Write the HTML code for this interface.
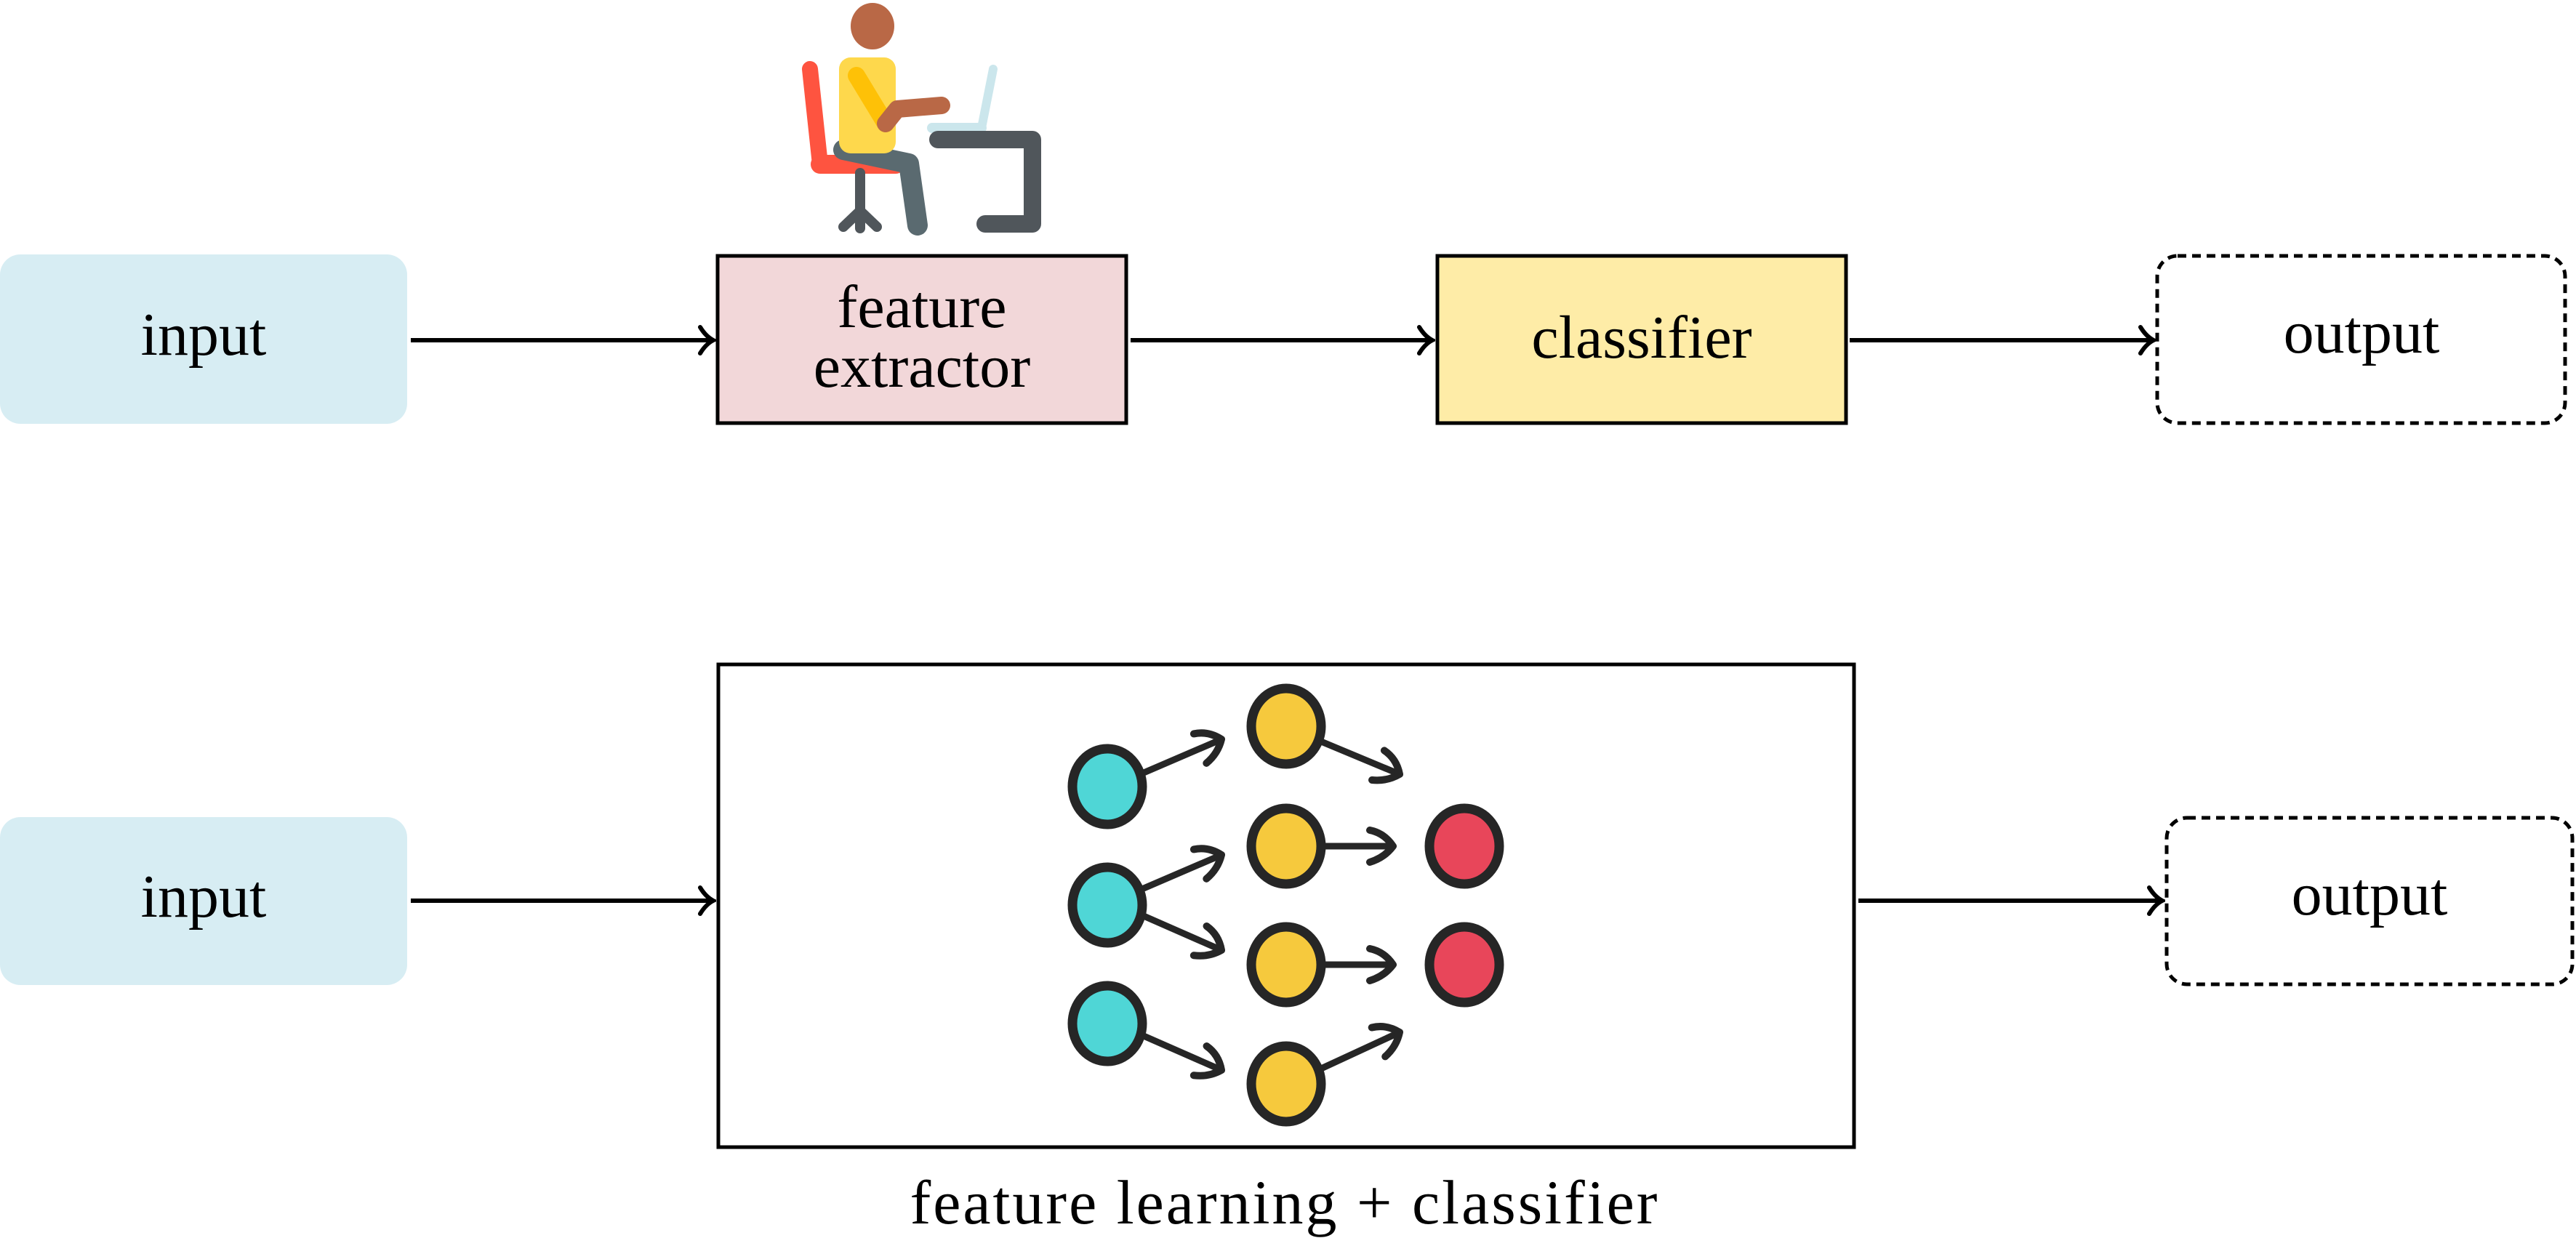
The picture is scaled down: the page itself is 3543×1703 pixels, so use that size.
<!DOCTYPE html>
<html><head><meta charset="utf-8"><style>
html,body{margin:0;padding:0;background:#fff}
svg{display:block}
text{font-family:"Liberation Serif",serif;fill:#000}
</style></head><body>
<svg width="3543" height="1703" viewBox="0 0 3543 1703" xmlns="http://www.w3.org/2000/svg">
<defs>
<marker id="a" markerWidth="30" markerHeight="44" refX="26" refY="22" orient="auto" markerUnits="userSpaceOnUse">
<path d="M8,4 Q16,17 26,22 Q16,27 8,40" fill="none" stroke="#000" stroke-width="6" stroke-linecap="round"/>
</marker>
<marker id="s" markerWidth="60" markerHeight="60" refX="46" refY="30" orient="auto" markerUnits="userSpaceOnUse">
<path d="M14,8 Q34,12 46,30 Q34,46 14,52" fill="none" stroke="#262626" stroke-width="10" stroke-linecap="round" stroke-linejoin="round"/>
</marker>
</defs>

<!-- top row -->
<rect x="0" y="350" width="560" height="233" rx="28" fill="#d7edf3"/>
<text x="280" y="488" font-size="84" text-anchor="middle">input</text>
<line x1="565" y1="468" x2="981" y2="468" stroke="#000" stroke-width="6" marker-end="url(#a)"/>
<rect x="987" y="352" width="562" height="230" fill="#f2d7d9" stroke="#000" stroke-width="5"/>
<text x="1268" y="450" font-size="84" text-anchor="middle">feature</text>
<text x="1268" y="532" font-size="84" text-anchor="middle">extractor</text>
<line x1="1555" y1="468" x2="1970" y2="468" stroke="#000" stroke-width="6" marker-end="url(#a)"/>
<rect x="1977" y="352" width="562" height="230" fill="#feeca7" stroke="#000" stroke-width="5"/>
<text x="2258" y="492" font-size="84" text-anchor="middle">classifier</text>
<line x1="2544" y1="468" x2="2962" y2="468" stroke="#000" stroke-width="6" marker-end="url(#a)"/>
<rect x="2967" y="352" width="561" height="230" rx="28" fill="none" stroke="#000" stroke-width="5" stroke-dasharray="12,8"/>
<text x="3248" y="485" font-size="84" text-anchor="middle">output</text>

<!-- person -->
<g stroke-linecap="round" fill="none">
<line x1="1114" y1="95" x2="1128" y2="226" stroke="#fe5440" stroke-width="22"/>
<line x1="1128" y1="226" x2="1232" y2="226" stroke="#fe5440" stroke-width="26"/>
<line x1="1183" y1="238" x2="1183" y2="290" stroke="#50565b" stroke-width="14"/>
<path d="M1183,290 L1160,312 M1183,290 L1183,314 M1183,290 L1206,312" stroke="#50565b" stroke-width="14"/>
<path d="M1160,206 L1250,225 L1262,310" stroke="#5a6a70" stroke-width="28" stroke-linejoin="round"/>
<rect x="1154" y="79" width="78" height="132" rx="16" fill="#fed84c" stroke="none"/>
<line x1="1178" y1="104" x2="1218" y2="170" stroke="#fec107" stroke-width="24"/>
<path d="M1218,170 L1234,150 L1295,145" stroke="#b96846" stroke-width="24" stroke-linejoin="round"/>
<line x1="1366" y1="95" x2="1350" y2="176" stroke="#cbe6ec" stroke-width="12"/>
<line x1="1282" y1="176" x2="1350" y2="176" stroke="#cbe6ec" stroke-width="14"/>
<path d="M1290,192 L1420,192 L1420,308 L1355,308" stroke="#50565b" stroke-width="24" stroke-linejoin="round"/>
</g>
<ellipse cx="1200" cy="36" rx="30" ry="32" fill="#b96846"/>

<!-- bottom row -->
<rect x="0" y="1124" width="560" height="231" rx="28" fill="#d7edf3"/>
<text x="280" y="1261" font-size="84" text-anchor="middle">input</text>
<line x1="565" y1="1239" x2="981" y2="1239" stroke="#000" stroke-width="6" marker-end="url(#a)"/>
<rect x="988" y="914" width="1562" height="664" fill="#fff" stroke="#000" stroke-width="5"/>
<line x1="2556" y1="1239" x2="2974" y2="1239" stroke="#000" stroke-width="6" marker-end="url(#a)"/>
<rect x="2980" y="1125" width="558" height="229" rx="28" fill="none" stroke="#000" stroke-width="5" stroke-dasharray="12,8"/>
<text x="3259" y="1258" font-size="84" text-anchor="middle">output</text>
<text x="1767" y="1683" font-size="86" text-anchor="middle" letter-spacing="3">feature learning + classifier</text>

<!-- network arrows -->
<g stroke="#262626" stroke-width="9" fill="none" stroke-linecap="round" marker-end="url(#s)">
<line x1="1573" y1="1063" x2="1680" y2="1017"/>
<line x1="1573" y1="1222" x2="1680" y2="1176"/>
<line x1="1573" y1="1260" x2="1680" y2="1307"/>
<line x1="1573" y1="1425" x2="1680" y2="1472"/>
<line x1="1817" y1="1020" x2="1925" y2="1065"/>
<line x1="1817" y1="1164" x2="1916" y2="1164"/>
<line x1="1817" y1="1327" x2="1916" y2="1327"/>
<line x1="1817" y1="1470" x2="1925" y2="1420"/>
</g>
<g stroke="#262626" stroke-width="13">
<ellipse cx="1523" cy="1082" rx="48" ry="52" fill="#4fd6d6"/>
<ellipse cx="1523" cy="1245" rx="48" ry="52" fill="#4fd6d6"/>
<ellipse cx="1523" cy="1408" rx="48" ry="52" fill="#4fd6d6"/>
<ellipse cx="1769" cy="999" rx="48" ry="52" fill="#f6c93d"/>
<ellipse cx="1769" cy="1164" rx="48" ry="52" fill="#f6c93d"/>
<ellipse cx="1769" cy="1327" rx="48" ry="52" fill="#f6c93d"/>
<ellipse cx="1769" cy="1491" rx="48" ry="52" fill="#f6c93d"/>
<ellipse cx="2014" cy="1164" rx="48" ry="52" fill="#e8465a"/>
<ellipse cx="2014" cy="1327" rx="48" ry="52" fill="#e8465a"/>
</g>
</svg>
</body></html>
